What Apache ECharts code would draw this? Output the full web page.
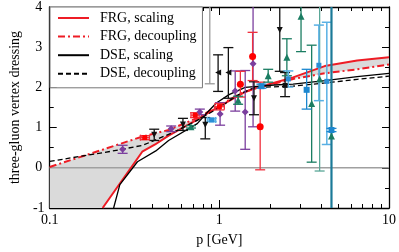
<!DOCTYPE html>
<html><head><meta charset="utf-8">
<script src="https://cdn.jsdelivr.net/npm/echarts@6/dist/echarts.min.js"></script>
<style>html,body{margin:0;padding:0;background:#fff}#c{width:399px;height:252px}</style>
</head><body><div id="c"></div>
<script>
// ---------- axes ----------
const X_MIN = 0.1, X_MAX = 10;
const Y_MIN = -1, Y_MAX = 4;
const minorXTicks = [0.2,0.3,0.4,0.5,0.6,0.7,0.8,0.9,2,3,4,5,6,7,8,9];
const zeroLineY = 0;

// ---------- curves ----------
const frgScalingX = [0.205, 0.351, 0.418, 0.502, 0.741, 0.845, 1.026, 1.095, 1.42, 1.62, 2.01, 2.72, 4.18, 6.49, 10];
const frgScalingY = [-1, 0.40, 0.58, 0.80, 1.20, 1.35, 1.55, 1.62, 1.89, 1.98, 2.09, 2.25, 2.53, 2.67, 2.75];
const frgDecouplingX = [0.1, 0.258, 0.353, 0.502, 0.741, 1.0, 1.33, 1.62, 2.72, 4.18, 6.49, 10];
const frgDecouplingY = [0.02, 0.59, 0.78, 0.94, 1.24, 1.55, 1.85, 1.97, 2.21, 2.35, 2.45, 2.57];
const dseScalingX = [0.238, 0.259, 0.329, 0.422, 0.502, 0.741, 0.845, 0.96, 1.14, 1.42, 2.1, 2.72, 4.2, 6.49, 10];
const dseScalingY = [-1, -0.42, 0.15, 0.42, 0.68, 1.10, 1.37, 1.61, 1.82, 2.0, 2.06, 2.08, 2.17, 2.27, 2.35];
const dseDecouplingX = [0.1, 0.23, 0.354, 0.547, 0.741, 1.0, 1.3, 1.62, 2.72, 4.2, 6.49, 10];
const dseDecouplingY = [0.16, 0.41, 0.56, 0.90, 1.18, 1.50, 1.82, 2.0, 2.03, 2.11, 2.20, 2.28];

// ---------- lattice data (x, y, y-low, y-high, x-low, x-high) ----------
const redSqX = [0.363, 0.72, 1.0];
const redSqY = [0.75, 1.31, 1.52];
const redSqLo = [0.70, 1.25, 1.44];
const redSqHi = [0.80, 1.37, 1.60];
const redSqXLo = [0.343, 0.68, 0.94];
const redSqXHi = [0.387, 0.76, 1.07];

const redCircX = [1.33, 1.57, 1.74];
const redCircY = [2.08, 2.77, 1.02];
const redCircLo = [1.76, 2.17, -0.05];
const redCircHi = [2.40, 3.37, 2.13];

const purX = [0.269, 0.52, 0.767, 1.01, 1.24, 1.42, 1.58];
const purY = [0.46, 0.97, 1.39, 1.34, 1.91, 1.39, 2.59];
const purLo = [0.36, 0.90, 1.32, 1.06, 1.41, 0.46, 1.02];
const purHi = [0.56, 1.04, 1.46, 1.62, 2.41, 2.42, 4.5];

const blkDownX = [0.413, 0.61, 0.826, 1.60, 2.27];
const blkDownY = [0.82, 1.08, 1.07, 1.73, 3.43];
const blkDownLo = [0.68, 0.93, 0.72, 1.32, 2.40];
const blkDownHi = [0.96, 1.23, 1.25, 2.14, 4.5];

const blkLeftX = [0.983, 1.13];
const blkLeftY = [2.37, 2.37];
const blkLeftLo = [1.90, 1.73];
const blkLeftHi = [2.81, 2.99];

const blkSqX = [2.44];
const blkSqY = [2.05];
const blkSqLo = [1.77];
const blkSqHi = [2.37];

const grayX = [0.878];
const grayY = [4.6];
const grayLo = [2.09];
const grayHi = [5.0];

const grnX = [0.68, 1.29, 1.94, 2.5, 3.03, 3.5];
const grnY = [1.02, 1.68, 2.29, 2.75, 3.77, 1.60];
const grnLo = [0.99, 1.58, 2.13, 2.29, 2.89, 0.14];
const grnHi = [1.05, 1.78, 2.45, 3.21, 4.6, 3.05];

const ltGrnX = [3.9];
const ltGrnY = [2.21];
const ltGrnLo = [-0.08];
const ltGrnHi = [4.6];

const tealX = [4.58];
const tealY = [0.79];
const tealLo = [-1.5];
const tealHi = [4.6];

const bluX = [1.77, 3.27, 4.58];
const bluY = [2.03, 1.94, 0.94];
const bluLo = [1.98, 1.46, 0.90];
const bluHi = [2.08, 2.45, 0.98];

const ltbX = [0.90, 2.55, 3.86, 4.3];
const ltbY = [1.19, 2.21, 2.55, 2.15];
const ltbLo = [1.15, 2.01, 1.67, 0.58];
const ltbHi = [1.23, 2.41, 3.55, 3.62];
const ltbXLo = [0.85, 2.55, 3.86, 4.3];
const ltbXHi = [0.95, 2.55, 3.86, 4.3];

// ---------- helpers ----------
const zip = (xs, ys) => xs.map((x, i) => [x, ys[i]]);
const clampY = v => Math.max(Y_MIN, Math.min(Y_MAX, v));

function errSeries(xs, ys, lo, hi, xlo, xhi, color, lw, capW) {
  const data = xs.map((x, i) => [x, ys[i], lo[i], hi[i], xlo ? xlo[i] : x, xhi ? xhi[i] : x]);
  return {
    type: 'custom', data, z: 4, clip: true, silent: true,
    encode: { x: 0, y: 1 },
    renderItem: (params, api) => {
      const x = api.value(0), y = api.value(1), l = api.value(2), h = api.value(3);
      const xl = api.value(4), xh = api.value(5);
      const st = { stroke: color, lineWidth: lw, fill: null };
      const ch = [];
      const pL = api.coord([x, clampY(l)]), pH = api.coord([x, clampY(h)]);
      ch.push({ type: 'line', shape: { x1: pL[0], y1: pL[1], x2: pH[0], y2: pH[1] }, style: st });
      if (l >= Y_MIN) ch.push({ type: 'line', shape: { x1: pL[0] - capW / 2, y1: pL[1], x2: pL[0] + capW / 2, y2: pL[1] }, style: st });
      if (h <= Y_MAX) ch.push({ type: 'line', shape: { x1: pH[0] - capW / 2, y1: pH[1], x2: pH[0] + capW / 2, y2: pH[1] }, style: st });
      if (xh > xl) {
        const a = api.coord([xl, y]), b = api.coord([xh, y]);
        ch.push({ type: 'line', shape: { x1: a[0], y1: a[1], x2: b[0], y2: b[1] }, style: st });
        ch.push({ type: 'line', shape: { x1: a[0], y1: a[1] - 3, x2: a[0], y2: a[1] + 3 }, style: st });
        ch.push({ type: 'line', shape: { x1: b[0], y1: b[1] - 3, x2: b[0], y2: b[1] + 3 }, style: st });
      }
      return { type: 'group', children: ch };
    }
  };
}
function markSeries(xs, ys, color, symbol, size, rotate) {
  return { type: 'scatter', data: zip(xs, ys), z: 5, silent: true, symbol, symbolSize: size,
    symbolRotate: rotate || 0, itemStyle: { color, opacity: 1 }, clip: true };
}

// band between FRG scaling and decoupling
const bandSeries = {
  type: 'custom', z: 1, silent: true, clip: true, data: [[X_MIN, Y_MIN]],
  encode: { x: 0, y: 1 },
  renderItem: (params, api) => {
    const pts = [];
    frgDecouplingX.forEach((x, i) => pts.push(api.coord([x, frgDecouplingY[i]])));
    for (let i = frgScalingX.length - 1; i >= 0; i--) pts.push(api.coord([frgScalingX[i], frgScalingY[i]]));
    pts.push(api.coord([X_MIN, Y_MIN]));
    return { type: 'polygon', shape: { points: pts }, style: { fill: '#dadada', stroke: null } };
  }
};

const RED = '#ee1c25';
const FONT = 'Liberation Serif';
const noSym = { opacity: 0 };

const series = [
  bandSeries,
  { type: 'line', name: 'zero', data: [[X_MIN, zeroLineY], [X_MAX, zeroLineY]], symbol: 'none', silent: true, z: 2,
    lineStyle: { color: '#a0a0a0', width: 1.6 } },
  { type: 'line', name: 'FRG, scaling', data: zip(frgScalingX, frgScalingY), symbol: 'none', z: 3,
    lineStyle: { color: RED, width: 2 }, itemStyle: { color: RED } },
  { type: 'line', name: 'FRG, decoupling', data: zip(frgDecouplingX, frgDecouplingY), symbol: 'none', z: 3,
    lineStyle: { color: RED, width: 2, type: [7, 3, 2, 3] }, itemStyle: { color: RED } },
  { type: 'line', name: 'DSE, scaling', data: zip(dseScalingX, dseScalingY), symbol: 'none', z: 3,
    lineStyle: { color: '#000', width: 1.3 }, itemStyle: { color: '#000' } },
  { type: 'line', name: 'DSE, decoupling', data: zip(dseDecouplingX, dseDecouplingY), symbol: 'none', z: 3,
    lineStyle: { color: '#000', width: 1.3, type: [5, 3] }, itemStyle: { color: '#000' } },

  errSeries(grayX, grayY, grayLo, grayHi, null, null, '#999', 1.3, 10),
  errSeries(purX, purY, purLo, purHi, null, null, '#7b3f9e', 1.3, 10),
  errSeries(blkDownX, blkDownY, blkDownLo, blkDownHi, null, null, '#111', 1.3, 10),
  errSeries(blkLeftX, blkLeftY, blkLeftLo, blkLeftHi, null, null, '#111', 1.3, 10),
  errSeries(blkSqX, blkSqY, blkSqLo, blkSqHi, null, null, '#111', 1.3, 10),
  errSeries(redSqX, redSqY, redSqLo, redSqHi, redSqXLo, redSqXHi, '#f0303e', 1.3, 10),
  errSeries(redCircX, redCircY, redCircLo, redCircHi, null, null, '#f0303e', 1.3, 10),
  errSeries(grnX, grnY, grnLo, grnHi, null, null, '#1b7d62', 1.3, 10),
  errSeries(ltGrnX, ltGrnY, ltGrnLo, ltGrnHi, null, null, '#5aa797', 1.3, 10),
  errSeries(ltbX, ltbY, ltbLo, ltbHi, ltbXLo, ltbXHi, '#58b0e4', 1.5, 10),
  errSeries(bluX, bluY, bluLo, bluHi, null, null, '#1c87cf', 1.3, 10),
  errSeries(tealX, tealY, tealLo, tealHi, null, null, '#1b7a98', 2.2, 10),

  markSeries(purX, purY, '#7b3f9e', 'diamond', 7),
  markSeries(blkDownX, blkDownY, '#111', 'triangle', 6, 180),
  markSeries(blkLeftX, blkLeftY, '#111', 'triangle', 6, 90),
  markSeries(blkSqX, blkSqY, '#111', 'rect', 5),
  markSeries(redSqX, redSqY, '#ff0000', 'rect', 5),
  markSeries(redCircX, redCircY, '#ff0000', 'circle', 7),
  markSeries(grnX, grnY, '#1b7d62', 'triangle', 7),
  markSeries(ltGrnX, ltGrnY, '#1b7d62', 'triangle', 7),
  markSeries(tealX, tealY, '#1b7d62', 'triangle', 7),
  markSeries(ltbX, ltbY, '#2a8fd6', 'rect', 5),
  markSeries(bluX, bluY, '#1c87cf', 'rect', 6)
];

const tickStyle = { color: '#000', width: 1 };
const axisLineStyle = { show: true, onZero: false, lineStyle: { color: '#000', width: 1.3 } };
const logAxisBase = { type: 'log', logBase: 10, min: X_MIN, max: X_MAX, splitLine: { show: false } };
const minorXAxis = pos => ({
  type: 'value', position: pos, min: Math.log10(X_MIN), max: Math.log10(X_MAX),
  axisLine: { show: false, onZero: false }, splitLine: { show: false }, axisLabel: { show: false },
  axisTick: { show: true, inside: true, length: 4, lineStyle: tickStyle,
    customValues: minorXTicks.map(v => Math.log10(v)) }
});

const chart = echarts.init(document.getElementById('c'), null, { renderer: 'canvas' });
chart.setOption({
  animation: false,
  backgroundColor: '#fff',
  grid: { left: 36, right: 9, top: 7, bottom: 36, containLabel: false },
  legend: {
    left: 50, top: 7, orient: 'vertical',
    data: ['FRG, scaling', 'FRG, decoupling', 'DSE, scaling', 'DSE, decoupling']
      .map(n => ({ name: n, itemStyle: noSym })),
    itemWidth: 31, itemHeight: 14, itemGap: 4.6,
    padding: [4, 6, 7, 7],
    backgroundColor: '#fff', borderColor: '#777', borderWidth: 1, borderRadius: 0,
    textStyle: { fontFamily: FONT, fontSize: 14, color: '#000', padding: [0, 0, 0, 6] },
    selectedMode: false
  },
  xAxis: [
    Object.assign({}, logAxisBase, {
      position: 'bottom', name: 'p [GeV]', nameLocation: 'middle', nameGap: 25,
      nameTextStyle: { fontFamily: FONT, fontSize: 14, color: '#000' },
      axisLine: axisLineStyle,
      axisTick: { show: true, inside: true, length: 8, lineStyle: tickStyle },
      axisLabel: { show: true, margin: 5, fontFamily: FONT, fontSize: 14, color: '#000',
        formatter: v => String(+(+v).toPrecision(3)) }
    }),
    Object.assign({}, logAxisBase, {
      position: 'top',
      axisLine: axisLineStyle,
      axisTick: { show: true, inside: true, length: 8, lineStyle: tickStyle },
      axisLabel: { show: false }
    }),
    minorXAxis('bottom'),
    minorXAxis('top')
  ],
  yAxis: [
    { type: 'value', position: 'left', min: Y_MIN, max: Y_MAX, interval: 1,
      name: 'three-gluon vertex dressing', nameLocation: 'middle', nameGap: 24, nameRotate: 90,
      nameTextStyle: { fontFamily: FONT, fontSize: 14, color: '#000' },
      axisLine: axisLineStyle,
      axisTick: { show: true, inside: true, length: 7, lineStyle: tickStyle },
      minorTick: { show: true, splitNumber: 2, length: 4, lineStyle: tickStyle },
      splitLine: { show: false },
      axisLabel: { show: true, margin: 11, align: 'center', fontFamily: FONT, fontSize: 14, color: '#000' } },
    { type: 'value', position: 'right', min: Y_MIN, max: Y_MAX, interval: 1,
      axisLine: axisLineStyle,
      axisTick: { show: true, inside: true, length: 7, lineStyle: tickStyle },
      minorTick: { show: true, splitNumber: 2, length: 4, lineStyle: tickStyle },
      splitLine: { show: false }, axisLabel: { show: false } }
  ],
  series
});
</script>
</body></html>
